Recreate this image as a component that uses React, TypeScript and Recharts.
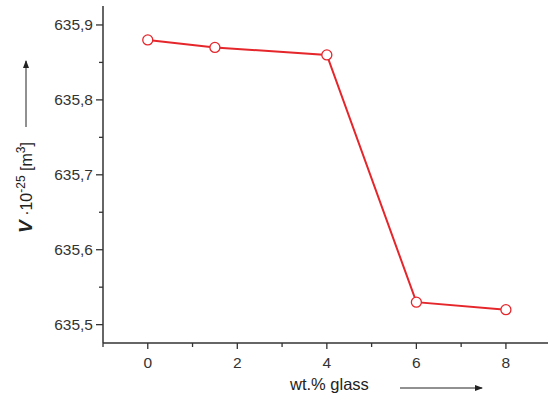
import { LineChart, Line, XAxis, YAxis } from 'recharts';

const glassWt = [0, 1.5, 4, 6, 8];
const volume = [635.88, 635.87, 635.86, 635.53, 635.52];

const xTicks = [-1, 0, 1, 2, 3, 4, 5, 6, 7, 8];
const yTicks = [635.5, 635.55, 635.6, 635.65, 635.7, 635.75, 635.8, 635.85, 635.9];

const data = glassWt.map((x, i) => ({ x, v: volume[i] }));

const RED = '#e5262b';
const AXIS = '#333';
const FONT = '"Liberation Sans", Arial, sans-serif';

function XTick(props: any) {
  const { x, y, payload } = props;
  const major = payload.value % 2 === 0;
  return (
    <g>
      <line x1={x} x2={x} y1={y} y2={y + (major ? 6 : 4)} stroke={AXIS} strokeWidth={1.3} />
      {major && (
        <text x={x} y={y + 25} textAnchor="middle" fontSize={15.5} fill={AXIS} fontFamily={FONT}>
          {payload.value}
        </text>
      )}
    </g>
  );
}

function YTick(props: any) {
  const { x, y, payload } = props;
  const major = Math.round(payload.value * 100) % 10 === 0;
  return (
    <g>
      <line x1={x - (major ? 7 : 4)} x2={x} y1={y} y2={y} stroke={AXIS} strokeWidth={1.3} />
      {major && (
        <text x={x - 10} y={y + 5.5} textAnchor="end" fontSize={15.5} fill={AXIS} fontFamily={FONT}>
          {payload.value.toFixed(1).replace('.', ',')}
        </text>
      )}
    </g>
  );
}

export default function App() {
  return (
    <div style={{ position: 'absolute', left: 0, top: 0, width: 548, height: 398, background: '#fff' }}>
      <LineChart width={548} height={398} data={data} margin={{ top: 6, right: 0, left: 0, bottom: 0 }}>
        <XAxis
          dataKey="x"
          type="number"
          domain={[-1, 8.94]}
          ticks={xTicks}
          interval={0}
          allowDataOverflow
          tickSize={0}
          tickMargin={0}
          tick={<XTick />}
          height={55}
          stroke={AXIS}
          strokeWidth={1.5}
        />
        <XAxis
          xAxisId="top"
          orientation="top"
          dataKey="x"
          type="number"
          domain={[-1, 8.94]}
          tick={false}
          tickLine={false}
          height={0}
          stroke={AXIS}
          strokeWidth={1.5}
        />
        <YAxis
          type="number"
          domain={[635.4755, 635.9253]}
          ticks={yTicks}
          interval={0}
          allowDataOverflow
          tickSize={0}
          tickMargin={0}
          tick={<YTick />}
          width={103}
          stroke={AXIS}
          strokeWidth={1.5}
        />
        <Line
          dataKey="v"
          stroke={RED}
          strokeWidth={2}
          dot={{ r: 5, fill: '#fff', stroke: RED, strokeWidth: 1.3 }}
          isAnimationActive={false}
        />
      </LineChart>
      <svg
        width={548}
        height={398}
        style={{ position: 'absolute', left: 0, top: 0, pointerEvents: 'none' }}
      >
        <defs>
          <marker id="ah" markerWidth="8" markerHeight="6" refX="7" refY="3" orient="auto">
            <path d="M0,0 L8,3 L0,6 z" fill="#222" />
          </marker>
        </defs>
        <line x1={26} y1={127} x2={26} y2={61} stroke="#222" strokeWidth={1} markerEnd="url(#ah)" />
        <text transform="translate(32,233) rotate(-90)" fontFamily={FONT} fill="#222" fontSize={16}>
          <tspan fontWeight="bold" fontStyle="italic" fontSize={19}>V</tspan>
          <tspan> ·10</tspan>
          <tspan dy={-7} fontSize={12}>-25</tspan>
          <tspan dy={7}> [m</tspan>
          <tspan dy={-7} fontSize={12}>3</tspan>
          <tspan dy={7}>]</tspan>
        </text>
        <text x={290} y={390} fontFamily={FONT} fill="#222" fontSize={16.5}>wt.% glass</text>
        <line x1={400} y1={388} x2={482} y2={388} stroke="#222" strokeWidth={1} markerEnd="url(#ah)" />
      </svg>
    </div>
  );
}
